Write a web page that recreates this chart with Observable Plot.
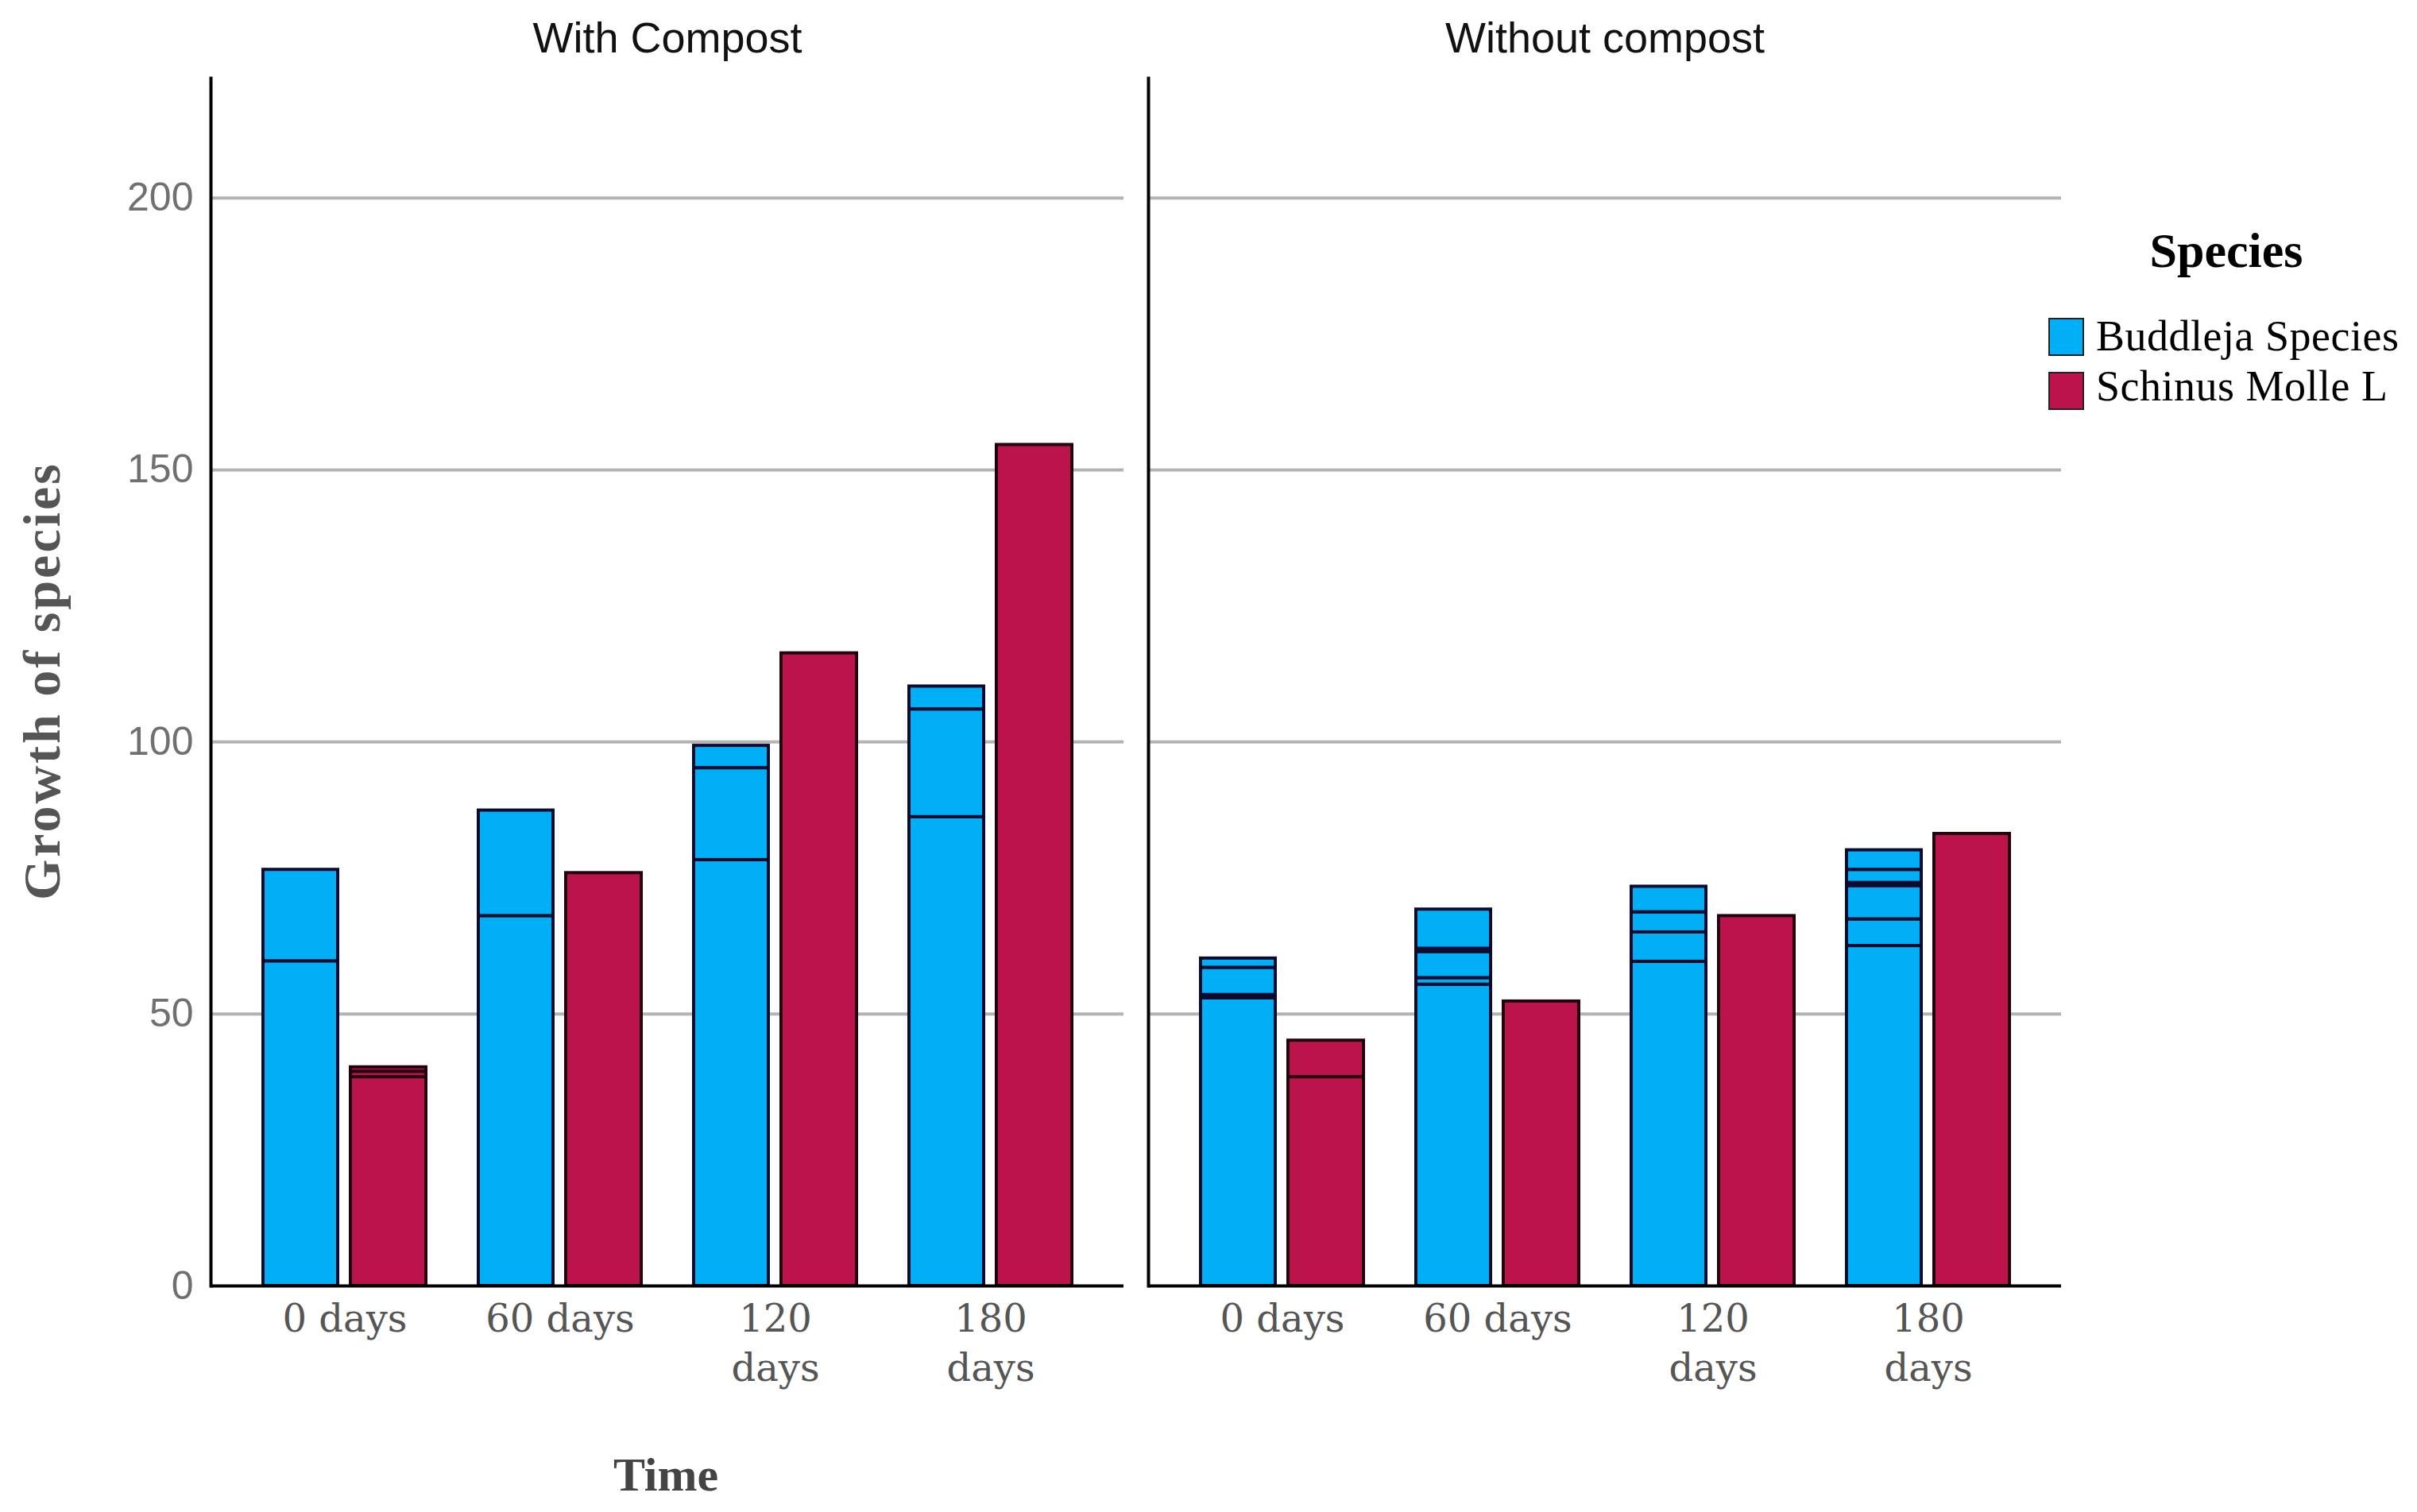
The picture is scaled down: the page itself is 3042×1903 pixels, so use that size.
<!DOCTYPE html>
<html>
<head>
<meta charset="utf-8">
<script src="https://cdn.jsdelivr.net/npm/d3@7"></script>
<script src="https://cdn.jsdelivr.net/npm/@observablehq/plot@0.6"></script>
<style>
  html, body { margin: 0; padding: 0; background: #fff; }
  #wrap { position: relative; width: 3042px; height: 1903px; overflow: hidden; background: #fff; }
  #chart { position: absolute; left: 0; top: 0; }
  .lbl { position: absolute; white-space: nowrap; line-height: 1; }
  #ylabel { left: 53px; top: 857px; transform: translate(-50%, -50%) rotate(-90deg);
            font: bold 66px "Liberation Serif", serif; color: #555; letter-spacing: 3px; }
  #xlabel { left: 838px; top: 1822px; transform: translateX(-50%);
            font: bold 60px "Liberation Serif", serif; color: #444; }
  #legTitle { left: 2802px; top: 280px; transform: translateX(-50%);
              font: bold 62px "Liberation Serif", serif; color: #000; }
  .sw { position: absolute; left: 2578px; width: 41px; height: 44px; border: 2px solid #222; }
  .legtxt { left: 2638px; font: 54px "Liberation Serif", serif; color: #000; letter-spacing: 0.5px; }
</style>
</head>
<body>
<div id="wrap">
  <div id="chart"></div>
  <div id="ylabel" class="lbl">Growth of species</div>
  <div id="xlabel" class="lbl">Time</div>
  <div id="legTitle" class="lbl">Species</div>
</div>
<script>
// ---- data ----
const compostGroups = ["With Compost", "Without compost"];
const times = ["0 days", "60 days", "120 days", "180 days"];
const timeTickLabels = ["0 days", "60 days", "120\ndays", "180\ndays"];
const species = ["Buddleja Species", "Schinus Molle L"];
const speciesColors = ["#00AFF5", "#BC134D"];
const yTicks = [0, 50, 100, 150, 200];

// stacked segment heights per time point (0, 60, 120, 180 days)
const buddlejaWithCompost = [[59.7, 16.8], [68.0, 19.4], [78.3, 16.9, 4.1], [86.2, 19.8, 4.2]];
const schinusWithCompost = [[38.4, 1.0, 0.8], [75.9], [116.3], [154.6]];
const buddlejaWithoutCompost = [[52.9, 0.6, 5.0, 1.7], [55.4, 1.2, 4.8, 0.6, 7.2], [59.6, 5.4, 3.7, 4.7], [62.5, 4.9, 6.1, 0.6, 2.4, 3.6]];
const schinusWithoutCompost = [[38.4, 6.7], [52.3], [68.0], [83.1]];

// ---- build table ----
const seriesList = [
  {compost: compostGroups[0], species: species[0], segs: buddlejaWithCompost},
  {compost: compostGroups[0], species: species[1], segs: schinusWithCompost},
  {compost: compostGroups[1], species: species[0], segs: buddlejaWithoutCompost},
  {compost: compostGroups[1], species: species[1], segs: schinusWithoutCompost}
];
const rows = [];
for (const s of seriesList) {
  s.segs.forEach((segs, i) => segs.forEach((v, k) => rows.push({compost: s.compost, time: times[i], species: s.species, seg: k, value: v})));
}
const blueRows = rows.filter(d => d.species === species[0]);
const redRows = rows.filter(d => d.species === species[1]);

const chart = Plot.plot({
  width: 3042,
  height: 1903,
  marginLeft: 265,
  marginRight: 448,
  marginTop: 98,
  marginBottom: 285,
  fx: {domain: compostGroups, paddingInner: 0.0263, paddingOuter: 0, label: null},
  x: {domain: times, paddingInner: 0.229, paddingOuter: 0.232, label: null},
  y: {domain: [0, 222], label: null},
  color: {domain: species, range: speciesColors},
  style: {background: "white", overflow: "visible"},
  marks: [
    Plot.gridY(yTicks.slice(1), {stroke: "#b3b3b3", strokeOpacity: 1, strokeWidth: 4}),
    Plot.barY(blueRows, Plot.stackY({order: null}, {
      x: "time", y: "value", fx: "compost", fill: "species",
      stroke: "#0b0b2e", strokeWidth: 4, insetLeft: 2, insetRight: 113
    })),
    Plot.barY(redRows, Plot.stackY({order: null}, {
      x: "time", y: "value", fx: "compost", fill: "species",
      stroke: "#220010", strokeWidth: 4, insetLeft: 112, insetRight: 2
    })),
    Plot.frame({anchor: "left", stroke: "#000", strokeWidth: 4}),
    Plot.ruleY([0], {stroke: "#000", strokeWidth: 4}),
    Plot.axisY({ticks: yTicks, tickSize: 0, tickPadding: 22, fontSize: 50,
      fontFamily: "Liberation Sans, Arial, sans-serif", fill: "#707070", label: null}),
    Plot.axisX({tickSize: 0, tickPadding: 14, fontSize: 48, fontFamily: "DejaVu Serif, serif",
      fill: "#555", lineHeight: 1.28, tickFormat: d => timeTickLabels[times.indexOf(d)], label: null}),
    Plot.axisFx({anchor: "top", tickSize: 0, tickPadding: 33, fontSize: 54,
      fontFamily: "Liberation Sans, Arial, sans-serif", fill: "#111", label: null})
  ]
});
document.getElementById("chart").appendChild(chart);

// legend
const wrap = document.getElementById("wrap");
species.forEach((sp, i) => {
  const sw = document.createElement("div");
  sw.className = "sw";
  sw.style.top = (400 + i * 68) + "px";
  sw.style.background = speciesColors[i];
  wrap.appendChild(sw);
  const t = document.createElement("div");
  t.className = "lbl legtxt";
  t.style.top = (392 + i * 63) + "px";
  t.textContent = sp;
  wrap.appendChild(t);
});
</script>
</body>
</html>
